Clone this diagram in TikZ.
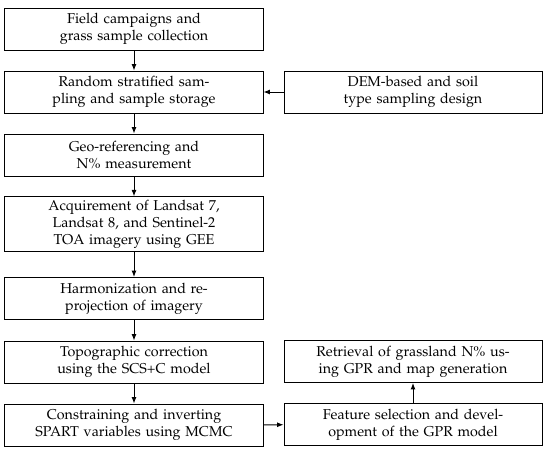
\documentclass[tikz,border=0pt]{standalone}
\usepackage[T1]{fontenc}
\usepackage{mathpazo}
\usetikzlibrary{arrows.meta}
\begin{document}
\begin{tikzpicture}[x=0.7pt,y=-0.7pt,
  stepbox/.style={draw, line width=0.7pt, minimum width=180.6pt, text width=174pt, align=center, inner sep=2pt, font=\fontsize{10}{12}\selectfont},
  two/.style={minimum height=29.4pt},
  three/.style={minimum height=37.8pt},
  conn/.style={line width=0.7pt, -{Latex[length=4.5pt,width=3.5pt]}}]
\useasboundingbox (0,0) rectangle (550,452);
\node[stepbox,two] (b1) at (134,29) {Field campaigns and\\grass sample collection};
\node[stepbox,two] (b2) at (134,92) {Random stratified sam-\\pling and sample storage};
\node[stepbox,two] (b3) at (134,155) {Geo-referencing and\\N\% measurement};
\node[stepbox,three] (b4) at (134,224) {Acquirement of Landsat 7,\\Landsat 8, and Sentinel-2\\TOA imagery using GEE};
\node[stepbox,two] (b5) at (134,298.5) {Harmonization and re-\\projection of imagery};
\node[stepbox,two] (b6) at (134,362) {Topographic correction\\using the SCS+C model};
\node[stepbox,two] (b7) at (134,425) {Constraining and inverting\\SPART variables using MCMC};
\node[stepbox,two] (dem) at (413,92) {DEM-based and soil\\type sampling design};
\node[stepbox,two] (ret) at (413,361.5) {Retrieval of grassland N\% us-\\ing GPR and map generation};
\node[stepbox,two] (feat) at (413,424.5) {Feature selection and devel-\\opment of the GPR model};
\draw[conn] (b1) -- (b2);
\draw[conn] (b2) -- (b3);
\draw[conn] (b3) -- (b4);
\draw[conn] (b4) -- (b5);
\draw[conn] (b5) -- (b6);
\draw[conn] (b6) -- (b7);
\draw[conn] (dem) -- (b2);
\draw[conn] (b7) -- (feat);
\draw[conn] (feat) -- (ret);
\end{tikzpicture}
\end{document}
